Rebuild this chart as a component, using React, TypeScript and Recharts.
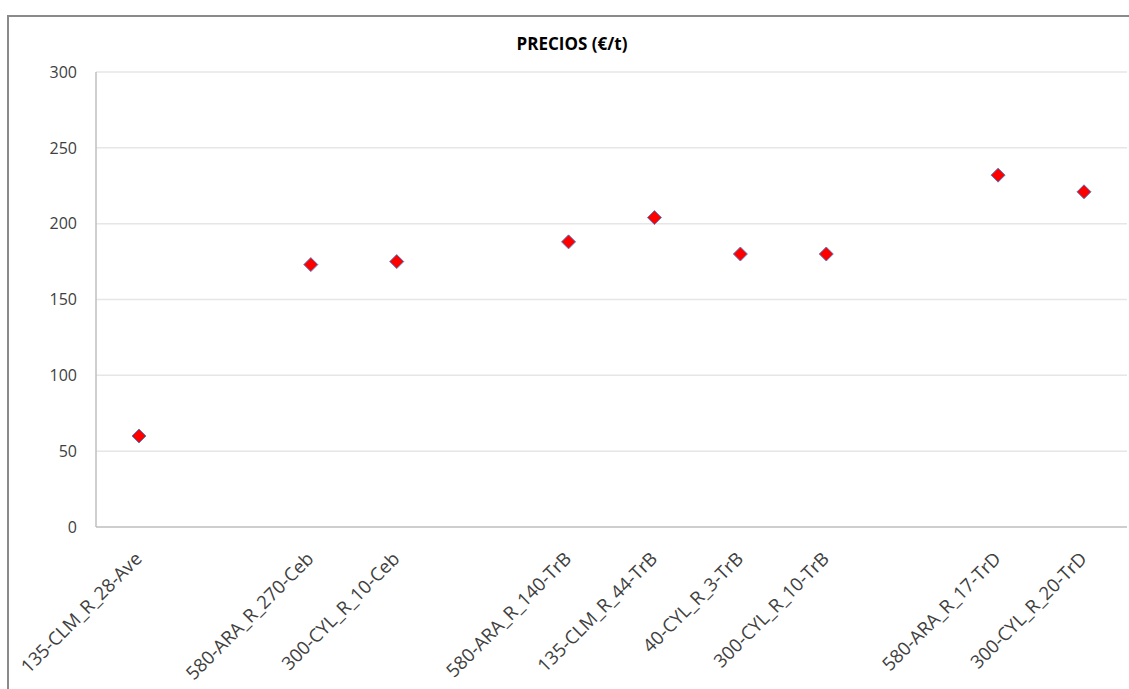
import React from 'react';
import { ComposedChart, Line, XAxis, YAxis, CartesianGrid } from 'recharts';

// empty strings are the blank slots between groups on the x axis
const categories = [
  '135-CLM_R_28-Ave',
  '',
  '580-ARA_R_270-Ceb',
  '300-CYL_R_10-Ceb',
  '',
  '580-ARA_R_140-TrB',
  '135-CLM_R_44-TrB',
  '40-CYL_R_3-TrB',
  '300-CYL_R_10-TrB',
  '',
  '580-ARA_R_17-TrD',
  '300-CYL_R_20-TrD',
];

const prices = [60, null, 173, 175, null, 188, 204, 180, 180, null, 232, 221];

const yTicks = [0, 50, 100, 150, 200, 250, 300];

const data = categories.map((c, i) => ({ slot: i, label: c, price: prices[i] }));

const FONT = '"Open Sans", sans-serif';

// red diamond with a thin blue outline, like the excel marker
const Diamond = (props: any) => {
  const { cx, cy, value, index } = props;
  if (value == null || cx == null || cy == null) return <g key={`d-${index}`} />;
  const r = 7;
  const pts = `${cx},${cy - r} ${cx + r},${cy} ${cx},${cy + r} ${cx - r},${cy}`;
  return <polygon key={`d-${index}`} points={pts} fill="#ff0000" stroke="#4f81c7" strokeWidth={1} />;
};

const XTick = (props: any) => {
  const { x, y, payload } = props;
  const txt = categories[payload.value];
  if (!txt) return null;
  return (
    <g transform={`translate(${x + 4},${y + 25})`}>
      <text
        x={0}
        y={0}
        textAnchor="end"
        transform="rotate(-45)"
        fill="#404040"
        fontSize={18.5}
        fontFamily={FONT}
      >
        {txt}
      </text>
    </g>
  );
};

export default function App() {
  return (
    <div style={{ position: 'absolute', left: 0, top: 0, width: 1129, height: 689, background: '#fff', overflow: 'hidden' }}>
      <div
        style={{
          position: 'absolute',
          left: 7,
          top: 15,
          width: 1140,
          height: 700,
          borderTop: '2px solid #8a8a8a',
          borderLeft: '2px solid #8a8a8a',
          boxSizing: 'border-box',
        }}
      />
      <div
        style={{
          position: 'absolute',
          left: 0,
          width: 1144,
          top: 34,
          textAlign: 'center',
          fontFamily: FONT,
          fontWeight: 700,
          fontSize: 17,
          lineHeight: '20px',
          color: '#000',
        }}
      >
        PRECIOS (€/t)
      </div>
      <div style={{ position: 'absolute', left: 0, top: 0 }}>
        <ComposedChart width={1129} height={689} data={data} margin={{ top: 72, right: 2, bottom: 0, left: 0 }}>
          <CartesianGrid vertical={false} stroke="#e6e6e6" strokeWidth={1.5} />
          <XAxis
            dataKey="slot"
            type="category"
            height={162}
            interval={0}
            padding={{ left: 43, right: 43 }}
            tickLine={false}
            axisLine={{ stroke: '#c4c4c4', strokeWidth: 1.5 }}
            tick={<XTick />}
          />
          <YAxis
            width={96}
            domain={[0, 300]}
            ticks={yTicks}
            tickLine={false}
            tickMargin={13}
            axisLine={{ stroke: '#bfbfbf', strokeWidth: 1.5 }}
            tick={{ fill: '#404040', fontSize: 16, fontFamily: FONT }}
          />
          <Line
            dataKey="price"
            stroke="none"
            isAnimationActive={false}
            dot={<Diamond />}
            activeDot={false}
            connectNulls={false}
          />
        </ComposedChart>
      </div>
    </div>
  );
}
